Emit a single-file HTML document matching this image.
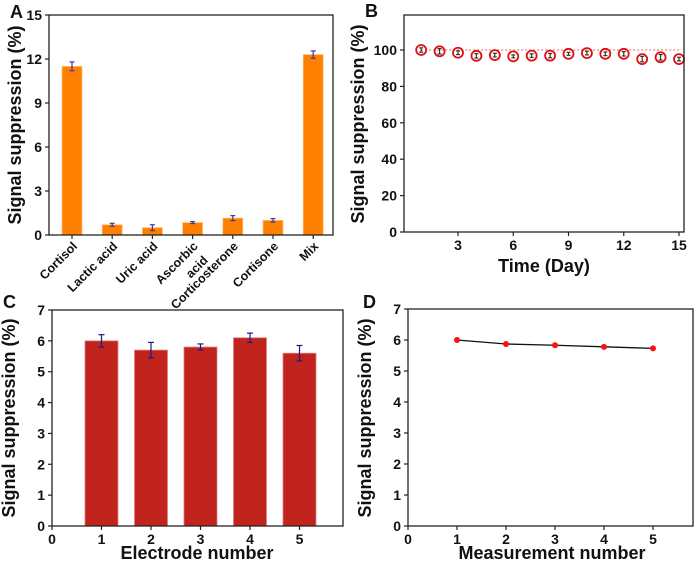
<!DOCTYPE html>
<html><head><meta charset="utf-8"><style>
body{margin:0;background:#fff;}
svg text{font-family:"Liberation Sans",Arial,sans-serif;font-weight:bold;fill:#111;}
</style></head><body>
<svg id="fig" width="700" height="564" viewBox="0 0 700 564" xmlns="http://www.w3.org/2000/svg"></svg>
<script>
// Panel A data
const aCats = ["Cortisol","Lactic acid","Uric acid","Ascorbic acid","Corticosterone","Cortisone","Mix"];
const aVals = [11.5,0.7,0.5,0.85,1.15,1.0,12.3];
const aErrs = [0.3,0.1,0.2,0.07,0.17,0.12,0.25];
const aTicks = [0,3,6,9,12,15];
// Panel B data
const bDays = [1,2,3,4,5,6,7,8,9,10,11,12,13,14,15];
const bVals = [100,99.3,98.5,96.8,97.2,96.5,96.9,96.9,97.9,98.3,97.9,97.9,95,96,95];
const bErrs = [1.2,1.5,1.0,1.2,1.0,0.8,1.0,1.2,0.8,1.0,1.0,1.2,1.5,1.5,1.0];
const bYTicks = [0,20,40,60,80,100];
const bXTicks = [3,6,9,12,15];
// Panel C data
const cElectrodes = [1,2,3,4,5];
const cVals = [6.0,5.7,5.8,6.1,5.6];
const cErrs = [0.2,0.25,0.1,0.15,0.25];
const cTicks = [0,1,2,3,4,5,6,7];
const cXTicks = [0,1,2,3,4,5];
// Panel D data
const dMeas = [1,2,3,4,5];
const dVals = [6.0,5.87,5.83,5.78,5.73];

const svg=document.getElementById('fig');
const NS="http://www.w3.org/2000/svg";
function el(tag,attrs,text){const e=document.createElementNS(NS,tag);for(const k in attrs)e.setAttribute(k,attrs[k]);if(text!==undefined)e.textContent=text;svg.appendChild(e);return e;}
function lin(d0,d1,r0,r1){return v=>r0+(v-d0)*(r1-r0)/(d1-d0);}
function frame(x0,y0,x1,y1,name){const r=el('rect',{x:x0,y:y0,width:x1-x0,height:y1-y0,fill:'none',stroke:'#222','stroke-width':1.3});

}
function yAxis(ticks,y,xl,name){ticks.forEach(t=>{el('line',{x1:xl-4,x2:xl,y1:y(t),y2:y(t),stroke:'#222','stroke-width':1.2});
const tx=el('text',{x:xl-7,y:y(t)+5,'text-anchor':'end','font-size':14},t);

});}
function xAxisTicks(ticks,x,yb,name){ticks.forEach(t=>{el('line',{x1:x(t),x2:x(t),y1:yb,y2:yb+4,stroke:'#222','stroke-width':1.2});
const tx=el('text',{x:x(t),y:yb+18,'text-anchor':'middle','font-size':14},t);

});}
function yTitle(cx,cy,name){const t=el('text',{x:0,y:0,transform:`translate(${cx},${cy}) rotate(-90)`,'text-anchor':'middle','font-size':18},'Signal suppression (%)');

}
function letter(x,y,s){const t=el('text',{x:x,y:y,'font-size':18},s);

}
function errbar(cx,y1,y2,col,w){el('line',{x1:cx,x2:cx,y1:y1,y2:y2,stroke:col,'stroke-width':1.2});
el('line',{x1:cx-w,x2:cx+w,y1:y1,y2:y1,stroke:col,'stroke-width':1.2});
el('line',{x1:cx-w,x2:cx+w,y1:y2,y2:y2,stroke:col,'stroke-width':1.2});}

// ---- Panel A
{const L=49,R=333,T=15,B=235;const y=lin(0,15,B,T);const x=i=>72+i*40.2;
aVals.forEach((v,i)=>{const b=el('rect',{x:x(i)-10,y:y(v),width:20,height:B-y(v),fill:'#ff8000',stroke:'#ffc080','stroke-width':0.8});


errbar(x(i),y(v+aErrs[i]),y(v-aErrs[i]),'#3a3aa0',2.5);
el('line',{x1:x(i),x2:x(i),y1:B,y2:B+4,stroke:'#222','stroke-width':1.2});});
frame(L,T,R,B,'plot-a-frame');yAxis(aTicks,y,L,'a-y');
aCats.forEach((c,i)=>{if(c==="Ascorbic acid"){const t=el('text',{transform:`translate(${x(i)+6},${B+12}) rotate(-45)`,'text-anchor':'end','font-size':12.5},'Ascorbic');


const t2=el('text',{transform:`translate(${x(i)+16},${B+26}) rotate(-45)`,'text-anchor':'end','font-size':12.5},'acid');

}else{
const t=el('text',{transform:`translate(${x(i)+6},${B+12}) rotate(-45)`,'text-anchor':'end','font-size':12.5},c);

}});
yTitle(21,125,'a-y-axis-title');letter(10,18,'A');}

// ---- Panel B
{const L=404,R=684,T=15,B=232;const y=lin(0,100,B,50);const x=lin(3,15,458,679);
el('line',{x1:x(1),x2:x(15),y1:y(100),y2:y(100),stroke:'#f08080','stroke-width':1.2,'stroke-dasharray':'2,2'});
bDays.forEach((d,i)=>{errbar(x(d),y(bVals[i]+bErrs[i]),y(bVals[i]-bErrs[i]),'#333',2);
const c=el('circle',{cx:x(d),cy:y(bVals[i]),r:5,fill:'none',stroke:'#e01010','stroke-width':1.8});

});
frame(L,T,R,B,'plot-b-frame');yAxis(bYTicks,y,L,'b-y');xAxisTicks(bXTicks,x,B,'b-x');
const xt=el('text',{x:544,y:272,'text-anchor':'middle','font-size':18},'Time (Day)');


yTitle(364,124,'b-y-axis-title');letter(365,17,'B');}

// ---- Panel C
{const L=52,R=343,T=310,B=526;const y=lin(0,7,B,T);const x=lin(0,1,52,101.5);
cElectrodes.forEach((e,i)=>{const w=16.5;const b=el('rect',{x:x(e)-w,y:y(cVals[i]),width:2*w,height:B-y(cVals[i]),fill:'#c0241c',stroke:'#e08080','stroke-width':0.8});


errbar(x(e),y(cVals[i]+cErrs[i]),y(cVals[i]-cErrs[i]),'#1a1a8a',3);});
frame(L,T,R,B,'plot-c-frame');yAxis(cTicks,y,L,'c-y');xAxisTicks(cXTicks,x,B,'c-x');
const xt=el('text',{x:197,y:559,'text-anchor':'middle','font-size':18},'Electrode number');


yTitle(15,418,'c-y-axis-title');letter(3,308,'C');}

// ---- Panel D
{const L=408,R=693,T=309,B=526;const y=lin(0,7,B,T);const x=lin(0,1,408,457);
el('polyline',{points:dMeas.map((m,i)=>x(m)+','+y(dVals[i])).join(' '),fill:'none',stroke:'#111','stroke-width':1.3});
dMeas.forEach((m,i)=>{const c=el('circle',{cx:x(m),cy:y(dVals[i]),r:3,fill:'#ff1010'});

});
frame(L,T,R,B,'plot-d-frame');yAxis(cTicks,y,L,'d-y');xAxisTicks(cXTicks,x,B,'d-x');
const xt=el('text',{x:552,y:559,'text-anchor':'middle','font-size':18},'Measurement number');


yTitle(371,418,'d-y-axis-title');letter(363,308,'D');}
</script>
</body></html>
